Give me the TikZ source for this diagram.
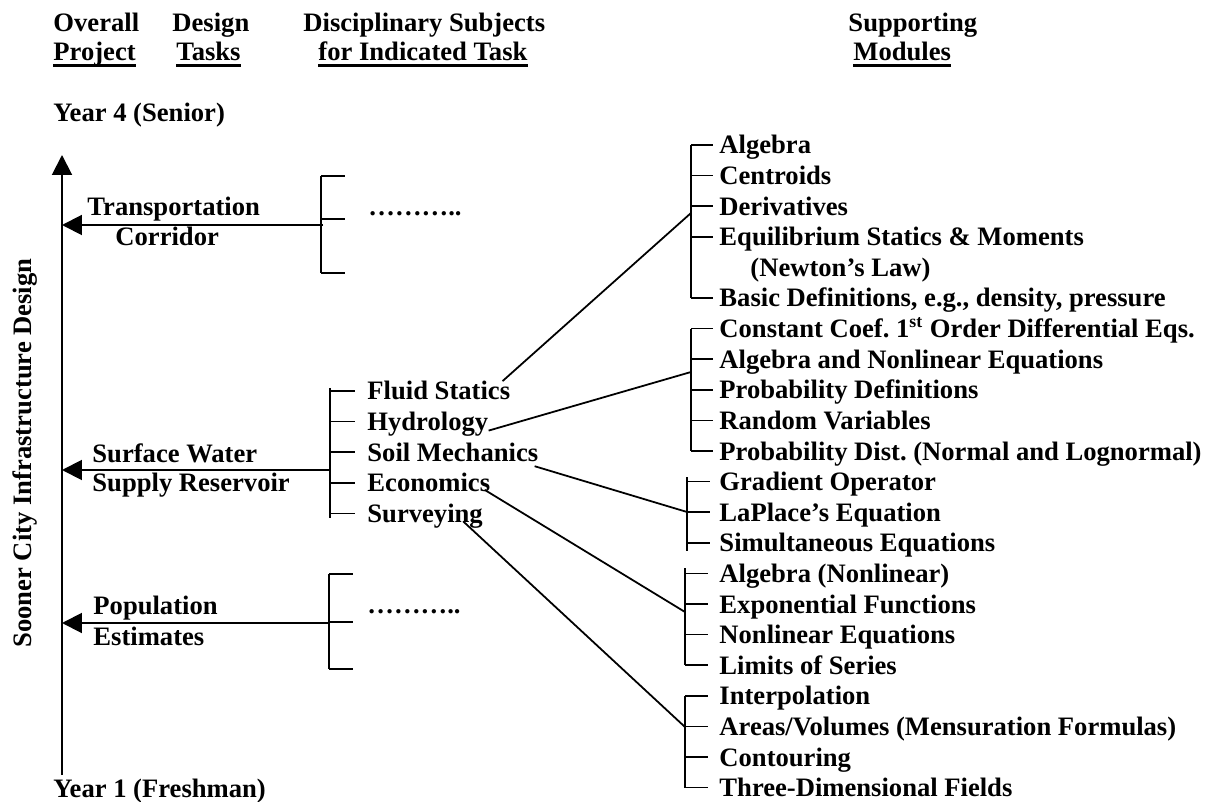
\documentclass[tikz,border=0pt]{standalone}
\usepackage{fontspec}
\setmainfont{Liberation Serif}
\usetikzlibrary{arrows.meta, calc}
\frenchspacing
\tikzset{
  lbl/.style={anchor=base west, inner sep=0pt,
              font=\fontsize{12}{13.8}\selectfont\bfseries},
  arr/.style={-{Triangle[length=9pt, width=9pt]}, line width=0.9pt},
  ln/.style={line width=0.8pt},
  uln/.style={line width=1.3pt},
}
\begin{document}
\begin{tikzpicture}[x=0.451pt, y=-0.451pt]
  \useasboundingbox (0,0) rectangle (1212,802);

  % column headings
  \node[lbl] (hover) at (53,32)  {Overall};
  \node[lbl] (hproj) at (53,61)  {Project};
  \node[lbl] (hdes)  at (172,32) {Design};
  \node[lbl] (htask) at (176,61) {Tasks};
  \node[lbl] (hdis)  at (303,32) {Disciplinary Subjects};
  \node[lbl] (hfor)  at (318,61) {for Indicated Task};
  \node[lbl] (hsup)  at (848,32) {Supporting};
  \node[lbl] (hmod)  at (853,61) {Modules};
  \foreach \n in {hproj,htask,hfor,hmod}
    \draw[uln] ($(\n.base west)+(0,4.5)$) -- ($(\n.base east)+(0,4.5)$);

  % time axis
  \node[lbl] (yr4) at (53,122) {Year 4 (Senior)};
  \node[lbl] (yr1) at (53,797) {Year 1 (Freshman)};
  \coordinate (ytop) at (62,155);
  \coordinate (ybot) at (62,775);
  \draw[arr] (ybot) -- (ytop);
  \node[rotate=90, anchor=base, inner sep=0pt,
        font=\fontsize{12}{13.8}\selectfont\bfseries] (title) at (31,453)
       {Sooner City Infrastructure Design};

  % design tasks
  \node[lbl] (trans) at (87,216)  {Transportation};
  \node[lbl] (corr)  at (115,246) {Corridor};
  \node[lbl] (surf)  at (92,462)  {Surface Water};
  \node[lbl] (supp)  at (92,491)  {Supply Reservoir};
  \node[lbl] (pop)   at (93,614)  {Population};
  \node[lbl] (est)   at (93,645)  {Estimates};

  \coordinate (tb) at (323,225);
  \draw[ln] (321,176) -- (321,273);
  \foreach \y in {176,219,273} \draw[ln] (321,\y) -- (345,\y);
  \draw[arr] (tb) -- (tb -| ytop);
  \node[lbl] (tdots) at (368,216) {………..};

  \coordinate (sb) at (330,470);
  \draw[ln] (330,388) -- (330,518);
  \draw[arr] (sb) -- (sb -| ytop);

  \coordinate (pb) at (329,623);
  \draw[ln] (329,574) -- (329,669);
  \foreach \y in {574,622,669} \draw[ln] (329,\y) -- (353,\y);
  \draw[arr] (pb) -- (pb -| ytop);
  \node[lbl] (pdots) at (367,613) {………..};

  % subjects
  \node[lbl] (fluid) at (367,400)   {Fluid Statics};
  \node[lbl] (hydro) at (367,430.6) {Hydrology};
  \node[lbl] (soil)  at (367,461.2) {Soil Mechanics};
  \node[lbl] (econ)  at (367,491.8) {Economics};
  \node[lbl] (surv)  at (367,522.4) {Surveying};
  \foreach \n in {fluid,hydro,soil,econ,surv}
    \draw[ln] ($(\n.base west)+(-37,-9)$) -- ($(\n.base west)+(-12,-9)$);

  % modules
  \node[lbl] (mAlg) at (719,154)   {Algebra};
  \node[lbl] (mCen) at (719,184.6) {Centroids};
  \node[lbl] (mDer) at (719,215.2) {Derivatives};
  \node[lbl] (mEqu) at (719,245.8) {Equilibrium Statics \& Moments};
  \node[lbl] (mNew) at (750,276.4) {(Newton’s Law)};
  \node[lbl] (mBas) at (719,307)   {Basic Definitions, e.g., density, pressure};
  \node[lbl] (mCon) at (719,337.6) {Constant Coef. 1\textsuperscript{st} Order Differential Eqs.};
  \node[lbl] (mAnl) at (719,368.2) {Algebra and Nonlinear Equations};
  \node[lbl] (mPde) at (719,398.8) {Probability Definitions};
  \node[lbl] (mRnd) at (719,429.4) {Random Variables};
  \node[lbl] (mPdi) at (719,460)   {Probability Dist. (Normal and Lognormal)};
  \node[lbl] (mGrd) at (719,490.6) {Gradient Operator};
  \node[lbl] (mLap) at (719,521.2) {LaPlace’s Equation};
  \node[lbl] (mSim) at (719,551.8) {Simultaneous Equations};
  \node[lbl] (mAln) at (719,582.4) {Algebra (Nonlinear)};
  \node[lbl] (mExp) at (719,613)   {Exponential Functions};
  \node[lbl] (mNle) at (719,643.6) {Nonlinear Equations};
  \node[lbl] (mLim) at (719,674.2) {Limits of Series};
  \node[lbl] (mInt) at (719,704.8) {Interpolation};
  \node[lbl] (mAre) at (719,735.4) {Areas/Volumes (Mensuration Formulas)};
  \node[lbl] (mCtr) at (719,766)   {Contouring};
  \node[lbl] (mThr) at (719,796.6) {Three-Dimensional Fields};

  \draw[ln] (691,145) -- (691,298);
  \draw[ln] (691,329) -- (691,451);
  \draw[ln] (687,477) -- (687,551);
  \draw[ln] (685,568) -- (685,665);
  \draw[ln] (685,696) -- (685,788);
  \foreach \n in {mAlg,mCen,mDer,mEqu,mBas,mCon,mAnl,mPde,mRnd,mPdi}
    \draw[ln] ($(\n.base west)+(-28,-9)$) -- ($(\n.base west)+(-6,-9)$);
  \foreach \n in {mGrd,mLap,mSim}
    \draw[ln] ($(\n.base west)+(-32,-9)$) -- ($(\n.base west)+(-9,-9)$);
  \foreach \n in {mAln,mExp,mNle,mLim,mInt,mAre,mCtr,mThr}
    \draw[ln] ($(\n.base west)+(-34,-9)$) -- ($(\n.base west)+(-11,-9)$);

  \coordinate (g1) at (691,213);
  \coordinate (g2) at (691,372);
  \coordinate (g3) at (687,512);
  \coordinate (g4) at (685,612);
  \coordinate (g5) at (685,727);
  \draw[ln] ($(fluid.north east)+(-8,0)$) -- (g1);
  \draw[ln] (hydro.base east) -- (g2);
  \draw[ln] ($(soil.base east)+(-4,5)$) -- (g3);
  \draw[ln] ($(econ.base east)+(-6,-2)$) -- (g4);
  \draw[ln] ($(surv.base east)+(-20,-1)$) -- (g5);
\end{tikzpicture}
\end{document}
